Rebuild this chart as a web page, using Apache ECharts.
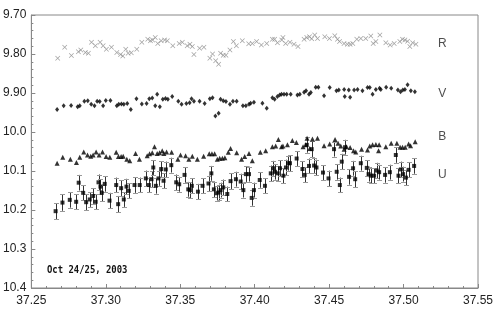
<!DOCTYPE html>
<html>
<head>
<meta charset="utf-8">
<script src="https://cdn.jsdelivr.net/npm/echarts@6/dist/echarts.min.js"></script>
<style>html,body{margin:0;padding:0;background:#fff;}#c{width:501px;height:313px;}</style>
</head>
<body>
<div id="c"></div>
<script>
// ---- data ----
const xTicks = [37.25, 37.30, 37.35, 37.40, 37.45, 37.50, 37.55];
const yTicks = [9.70, 9.80, 9.90, 10.0, 10.1, 10.2, 10.3, 10.4];

const Rx = [37.2677,37.2724,37.2769,37.2816,37.2832,37.2863,37.2883,37.2904,37.2930,37.2962,37.2982,37.3004,37.3038,37.3074,37.3099,37.3114,37.3134,37.3150,37.3171,37.3208,37.3242,37.3282,37.3300,37.3314,37.3332,37.3349,37.3372,37.3395,37.3413,37.3450,37.3493,37.3514,37.3547,37.3565,37.3581,37.3592,37.3630,37.3659,37.3699,37.3717,37.3738,37.3758,37.3771,37.3789,37.3807,37.3834,37.3857,37.3877,37.3917,37.3960,37.3984,37.4013,37.4045,37.4081,37.4119,37.4134,37.4153,37.4182,37.4190,37.4208,37.4237,37.4264,37.4291,37.4332,37.4350,37.4368,37.4383,37.4403,37.4422,37.4471,37.4502,37.4538,37.4556,37.4570,37.4600,37.4623,37.4641,37.4659,37.4686,37.4713,37.4746,37.4780,37.4796,37.4814,37.4841,37.4881,37.4910,37.4937,37.4975,37.4993,37.5009,37.5027,37.5042,37.5061,37.5083];
const Ry = [9.811,9.783,9.804,9.794,9.790,9.796,9.798,9.770,9.779,9.770,9.779,9.788,9.783,9.796,9.801,9.805,9.788,9.798,9.797,9.788,9.770,9.762,9.766,9.764,9.758,9.773,9.766,9.764,9.766,9.779,9.773,9.770,9.779,9.775,9.781,9.801,9.785,9.783,9.811,9.800,9.817,9.826,9.798,9.803,9.803,9.790,9.768,9.779,9.766,9.774,9.773,9.768,9.777,9.773,9.762,9.762,9.771,9.764,9.758,9.773,9.770,9.775,9.781,9.762,9.758,9.756,9.761,9.751,9.760,9.756,9.760,9.753,9.762,9.768,9.773,9.775,9.775,9.773,9.762,9.760,9.760,9.754,9.773,9.768,9.751,9.771,9.777,9.773,9.768,9.762,9.764,9.767,9.781,9.771,9.775];

const Vx = [37.2673,37.2717,37.2767,37.2811,37.2825,37.2856,37.2879,37.2902,37.2924,37.2942,37.2959,37.2982,37.3000,37.3031,37.3074,37.3087,37.3105,37.3121,37.3144,37.3168,37.3206,37.3242,37.3274,37.3292,37.3312,37.3332,37.3345,37.3363,37.3383,37.3401,37.3417,37.3446,37.3487,37.3509,37.3541,37.3563,37.3576,37.3592,37.3630,37.3664,37.3699,37.3717,37.3736,37.3758,37.3771,37.3789,37.3807,37.3834,37.3854,37.3879,37.3921,37.3941,37.3962,37.3973,37.3995,37.4052,37.4081,37.4119,37.4134,37.4153,37.4168,37.4180,37.4197,37.4215,37.4242,37.4287,37.4303,37.4332,37.4345,37.4365,37.4377,37.4410,37.4428,37.4466,37.4504,37.4549,37.4565,37.4601,37.4605,37.4632,37.4641,37.4668,37.4691,37.4724,37.4758,37.4773,37.4792,37.4814,37.4839,37.4847,37.4883,37.4917,37.4962,37.4980,37.4995,37.5009,37.5027,37.5049,37.5076];
const Vy = [9.942,9.933,9.932,9.935,9.933,9.921,9.920,9.929,9.933,9.921,9.922,9.933,9.919,9.919,9.933,9.929,9.928,9.929,9.927,9.942,9.915,9.928,9.927,9.915,9.913,9.933,9.903,9.935,9.916,9.914,9.916,9.909,9.921,9.929,9.927,9.925,9.915,9.921,9.921,9.927,9.915,9.912,9.959,9.952,9.916,9.920,9.922,9.929,9.921,9.921,9.933,9.933,9.929,9.926,9.924,9.926,9.939,9.912,9.916,9.909,9.905,9.903,9.903,9.903,9.903,9.905,9.903,9.898,9.894,9.903,9.899,9.885,9.885,9.907,9.886,9.894,9.892,9.891,9.909,9.892,9.911,9.892,9.891,9.894,9.886,9.886,9.903,9.891,9.888,9.891,9.885,9.888,9.892,9.897,9.892,9.891,9.879,9.894,9.897];

const Bx = [37.2673,37.2711,37.2762,37.2803,37.2825,37.2852,37.2877,37.2899,37.2915,37.2935,37.2955,37.2978,37.3002,37.3027,37.3070,37.3085,37.3103,37.3117,37.3141,37.3161,37.3200,37.3226,37.3278,37.3294,37.3312,37.3327,37.3345,37.3361,37.3379,37.3390,37.3408,37.3442,37.3484,37.3502,37.3536,37.3558,37.3581,37.3615,37.3657,37.3695,37.3713,37.3731,37.3749,37.3765,37.3783,37.3800,37.3823,37.3838,37.3879,37.3912,37.3933,37.3962,37.3984,37.4038,37.4074,37.4119,37.4141,37.4159,37.4180,37.4190,37.4220,37.4253,37.4280,37.4325,37.4343,37.4352,37.4370,37.4388,37.4422,37.4466,37.4504,37.4540,37.4560,37.4578,37.4601,37.4617,37.4641,37.4664,37.4679,37.4718,37.4758,37.4773,37.4792,37.4814,37.4832,37.4836,37.4881,37.4917,37.4955,37.4977,37.4993,37.5011,37.5034,37.5047,37.5078];
const By = [10.080,10.065,10.070,10.078,10.065,10.051,10.059,10.062,10.059,10.051,10.059,10.051,10.063,10.065,10.052,10.063,10.063,10.062,10.070,10.074,10.055,10.070,10.061,10.056,10.053,10.038,10.055,10.053,10.048,10.055,10.051,10.052,10.070,10.059,10.061,10.070,10.062,10.070,10.062,10.056,10.056,10.056,10.070,10.067,10.067,10.066,10.052,10.042,10.053,10.070,10.063,10.055,10.074,10.052,10.048,10.038,10.036,10.019,10.038,10.036,10.033,10.022,10.027,10.038,10.033,10.016,10.042,10.018,10.016,10.035,10.031,10.019,10.029,10.036,10.044,10.038,10.040,10.048,10.051,10.044,10.046,10.036,10.033,10.032,10.048,10.033,10.038,10.029,10.029,10.039,10.039,10.039,10.031,10.035,10.025];

const Ux = [37.2663,37.2709,37.2758,37.2801,37.2818,37.2848,37.2868,37.2892,37.2915,37.2932,37.2951,37.2964,37.2973,37.2993,37.3025,37.3070,37.3083,37.3103,37.3121,37.3139,37.3154,37.3193,37.3228,37.3269,37.3289,37.3307,37.3319,37.3336,37.3354,37.3372,37.3388,37.3403,37.3440,37.3473,37.3493,37.3529,37.3554,37.3565,37.3578,37.3619,37.3650,37.3690,37.3709,37.3726,37.3744,37.3758,37.3771,37.3789,37.3816,37.3838,37.3874,37.3906,37.3924,37.3941,37.3962,37.3980,37.3995,37.4034,37.4069,37.4108,37.4126,37.4136,37.4155,37.4170,37.4193,37.4210,37.4224,37.4237,37.4282,37.4321,37.4336,37.4350,37.4365,37.4383,37.4399,37.4415,37.4459,37.4496,37.4533,37.4551,37.4572,37.4585,37.4607,37.4634,37.4661,37.4675,37.4713,37.4753,37.4765,37.4780,37.4802,37.4820,37.4836,37.4876,37.4908,37.4948,37.4966,37.4982,37.4997,37.5016,37.5034,37.5071];
const Uy = [10.203,10.181,10.174,10.179,10.130,10.156,10.180,10.173,10.164,10.179,10.129,10.140,10.156,10.133,10.176,10.136,10.185,10.144,10.173,10.140,10.151,10.136,10.136,10.119,10.136,10.121,10.091,10.138,10.119,10.095,10.125,10.096,10.085,10.129,10.134,10.110,10.147,10.149,10.138,10.153,10.138,10.132,10.106,10.147,10.157,10.155,10.149,10.142,10.159,10.126,10.121,10.127,10.149,10.108,10.108,10.169,10.149,10.123,10.138,10.106,10.093,10.102,10.106,10.093,10.112,10.091,10.080,10.080,10.068,10.095,10.110,10.033,10.087,10.044,10.086,10.091,10.104,10.119,10.044,10.102,10.136,10.076,10.039,10.115,10.093,10.121,10.080,10.092,10.108,10.112,10.112,10.099,10.103,10.110,10.103,10.059,10.112,10.096,10.108,10.117,10.097,10.087];
const Uerr = [0.020,0.021,0.020,0.019,0.020,0.019,0.020,0.019,0.020,0.019,0.020,0.019,0.021,0.020,0.020,0.019,0.021,0.020,0.019,0.020,0.019,0.020,0.019,0.020,0.019,0.020,0.019,0.020,0.019,0.020,0.019,0.020,0.019,0.020,0.019,0.020,0.019,0.020,0.019,0.020,0.019,0.020,0.019,0.020,0.019,0.020,0.019,0.020,0.019,0.020,0.019,0.020,0.019,0.020,0.019,0.020,0.019,0.020,0.019,0.020,0.019,0.020,0.019,0.020,0.019,0.020,0.019,0.020,0.019,0.020,0.019,0.020,0.019,0.020,0.019,0.020,0.019,0.020,0.019,0.020,0.019,0.020,0.019,0.020,0.019,0.020,0.019,0.020,0.019,0.020,0.019,0.020,0.019,0.020,0.019,0.020,0.019,0.020,0.019,0.020,0.019,0.020];

const bandNames = ['R', 'V', 'B', 'U'];
const bandLabelX = [37.526, 37.526, 37.526, 37.526];
const bandLabelY = [9.774, 9.903, 10.013, 10.110];
const dateLabel = 'Oct 24/25, 2003';

// ---- build ----
const zip = (xs, ys) => xs.map((x, i) => [x, ys[i]]);
const Rdata = zip(Rx, Ry), Vdata = zip(Vx, Vy), Bdata = zip(Bx, By);
const Udata = Ux.map((x, i) => [x, Uy[i], Uerr[i]]);
const labelData = bandNames.map((n, i) => ({ value: [bandLabelX[i], bandLabelY[i]], name: n }));

const crossPath = 'path://M0,1L1,0L5,4L9,0L10,1L6,5L10,9L9,10L5,6L1,10L0,9L4,5Z';

const chart = echarts.init(document.getElementById('c'), null, { renderer: 'canvas' });
const axisFont = { fontFamily: 'Liberation Sans, Arial, sans-serif', fontSize: 12, color: '#222' };
chart.setOption({
  animation: false,
  backgroundColor: '#fff',
  grid: { left: 31, right: 23, top: 15, bottom: 25, show: true, borderColor: '#888', borderWidth: 1, backgroundColor: 'transparent' },
  xAxis: {
    type: 'value', min: 37.25, max: 37.55, interval: 0.05,
    axisLine: { show: true, lineStyle: { color: '#888', width: 1 } },
    axisTick: { show: true, inside: true, length: 4, lineStyle: { color: '#888' } },
    minorTick: { show: true, splitNumber: 5, length: 2, lineStyle: { color: '#888' } },
    splitLine: { show: false },
    axisLabel: Object.assign({ margin: 7, formatter: v => v.toFixed(2) }, axisFont)
  },
  yAxis: {
    type: 'value', min: 9.7, max: 10.4, interval: 0.1, inverse: true,
    axisLine: { show: true, lineStyle: { color: '#888', width: 1 } },
    axisTick: { show: true, inside: true, length: 4, lineStyle: { color: '#888' } },
    minorTick: { show: true, splitNumber: 5, length: 2, lineStyle: { color: '#888' } },
    splitLine: { show: false },
    axisLabel: Object.assign({ margin: 5, formatter: v => (v < 9.995 ? v.toFixed(2) : v.toFixed(1)) }, axisFont)
  },
  series: [
    { type: 'scatter', name: 'R', data: Rdata, symbol: crossPath, symbolSize: 5,
      itemStyle: { color: '#8a8a8a' } },
    { type: 'scatter', name: 'V', data: Vdata, symbol: 'diamond', symbolSize: [4, 5],
      itemStyle: { color: '#000' } },
    { type: 'scatter', name: 'B', data: Bdata, symbol: 'triangle', symbolSize: [5, 5],
      itemStyle: { color: '#000' } },
    { type: 'custom', name: 'Uerr', data: Udata, encode: { x: 0, y: 1 },
      renderItem: function (params, api) {
        const x = api.value(0), y = api.value(1), e = api.value(2);
        const t = api.coord([x, y - e]), b = api.coord([x, y + e]);
        const cx = Math.round(t[0]) + 0.5, w = 2.5;
        return { type: 'group', children: [
          { type: 'line', shape: { x1: cx, y1: t[1], x2: cx, y2: b[1] }, style: { stroke: '#333', lineWidth: 1 } },
          { type: 'line', shape: { x1: cx - w, y1: Math.round(t[1]) + 0.5, x2: cx + w, y2: Math.round(t[1]) + 0.5 }, style: { stroke: '#999', lineWidth: 1 } },
          { type: 'line', shape: { x1: cx - w, y1: Math.round(b[1]) + 0.5, x2: cx + w, y2: Math.round(b[1]) + 0.5 }, style: { stroke: '#999', lineWidth: 1 } }
        ] };
      }, z: 2 },
    { type: 'scatter', name: 'U', data: Udata.map(d => [d[0], d[1]]), symbol: 'rect', symbolSize: 4,
      itemStyle: { color: '#000' }, z: 3 },
    { type: 'scatter', name: 'labels', data: labelData, symbolSize: 0,
      label: { show: true, position: 'inside', formatter: p => p.name,
        fontFamily: 'Liberation Sans, Arial, sans-serif', fontSize: 12, color: '#222' } }
  ],
  graphic: [
    { type: 'text', x: 47, y: 265, scaleX: 0.81,
      style: { text: dateLabel, font: 'bold 11px "DejaVu Sans Mono"', fill: '#111' } }
  ]
});
</script>
</body>
</html>
